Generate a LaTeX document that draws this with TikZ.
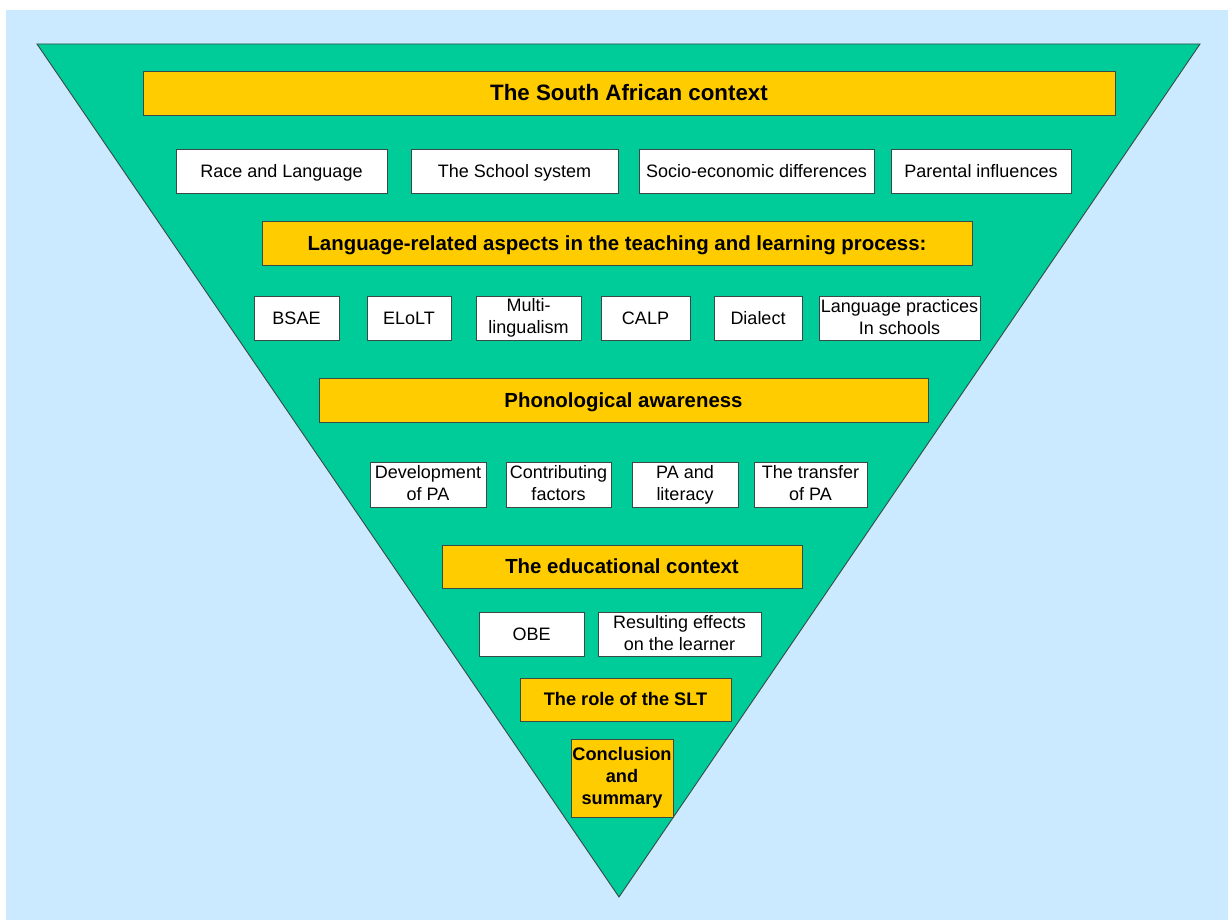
\documentclass[tikz,border=0pt]{standalone}
\usepackage{fontspec}
\setmainfont{Liberation Sans}
\definecolor{bgblue}{HTML}{CCEAFF}
\definecolor{tgreen}{HTML}{00CC99}
\definecolor{tyellow}{HTML}{FFCC00}
\definecolor{edge}{HTML}{3A4A44}
\newcommand\topstrut{\rule{0pt}{0.96em}}
\newcommand\botstrut{\rule[-0.26em]{0pt}{0.26em}}
\newcommand\lo[1]{\raisebox{-2.5pt}{#1}}
\tikzset{
  box/.style={draw=edge, line width=0.9pt, inner sep=0pt, align=center,
    font=\fontsize{18}{22}\selectfont,
    execute at begin node=\topstrut, execute at end node=\botstrut},
  wbox/.style={box, fill=white},
  ybox/.style={box, fill=tyellow, font=\fontsize{20.4}{22}\selectfont\bfseries},
  ybig/.style={box, fill=tyellow, font=\fontsize{22.3}{24}\selectfont\bfseries},
  ysmall/.style={box, fill=tyellow, font=\fontsize{18.2}{22}\selectfont\bfseries},
}
\begin{document}
\begin{tikzpicture}[x=1pt,y=-1pt]
\useasboundingbox (0,0) rectangle (1228,920);
\fill[white] (0,0) rectangle (1228,920);
\fill[bgblue] (6,10) rectangle (1228,920);
\coordinate (tl) at (37,44);
\coordinate (tr) at (1200,44);
\coordinate (tb) at (619,897);
\draw[edge, line width=0.9pt, fill=tgreen] (tl) -- (tr) -- (tb) -- cycle;

\node[ybig, minimum width=972pt, minimum height=44pt] (sa) at (629,93) {The South African context};
\node[wbox, minimum width=211pt, minimum height=44pt] (race) at (281.5,171.5) {Race and Language};
\node[wbox, minimum width=207pt, minimum height=44pt] (school) at (514.5,171.5) {The School system};
\node[wbox, minimum width=235pt, minimum height=44pt] (socio) at (756.5,171.5) {Socio-economic differences};
\node[wbox, minimum width=180pt, minimum height=44pt] (parent) at (981,171.5) {Parental influences};

\node[ybox, minimum width=710pt, minimum height=44pt] (lang) at (617,243) {Language-related aspects in the teaching and learning process:};
\node[wbox, minimum width=85pt, minimum height=44pt] (bsae) at (296.5,318) {BSAE};
\node[wbox, minimum width=84pt, minimum height=44pt] (elolt) at (409,318) {ELoLT};
\node[wbox, minimum width=105pt, minimum height=44pt] (multi) at (528.5,318) {\lo{Multi-}\\\lo{lingualism}};
\node[wbox, minimum width=89pt, minimum height=44pt] (calp) at (645.5,318) {CALP};
\node[wbox, minimum width=88pt, minimum height=44pt] (dialect) at (758,318) {Dialect};
\node[wbox, minimum width=161pt, minimum height=44pt] (prac) at (899.5,318) {\lo{Language practices}\\\lo{In schools}};

\node[ybox, minimum width=609pt, minimum height=44pt] (pa) at (623.5,400) {Phonological awareness};
\node[wbox, minimum width=116pt, minimum height=45pt] (dev) at (428,484.5) {\lo{Development}\\\lo{of PA}};
\node[wbox, minimum width=105pt, minimum height=45pt] (contrib) at (558.5,484.5) {\lo{Contributing}\\\lo{factors}};
\node[wbox, minimum width=106pt, minimum height=45pt] (palit) at (685,484.5) {\lo{PA and}\\\lo{literacy}};
\node[wbox, minimum width=113pt, minimum height=45pt] (transfer) at (810.5,484.5) {\lo{The transfer}\\\lo{of PA}};

\node[ybox, minimum width=360pt, minimum height=43pt] (edu) at (622,566.5) {The educational context};
\node[wbox, minimum width=105pt, minimum height=44pt] (obe) at (531.5,634) {OBE};
\node[wbox, minimum width=163pt, minimum height=44pt] (result) at (679.5,634) {\lo{Resulting effects}\\\lo{on the learner}};

\node[ysmall, minimum width=211pt, minimum height=43pt] (slt) at (625.5,699.5) {The role of the SLT};
\node[ysmall, minimum width=102pt, minimum height=78pt] (concl) at (622,778) {\lo{Conclusion}\\\lo{and}\\\lo{summary}};
\end{tikzpicture}
\end{document}
